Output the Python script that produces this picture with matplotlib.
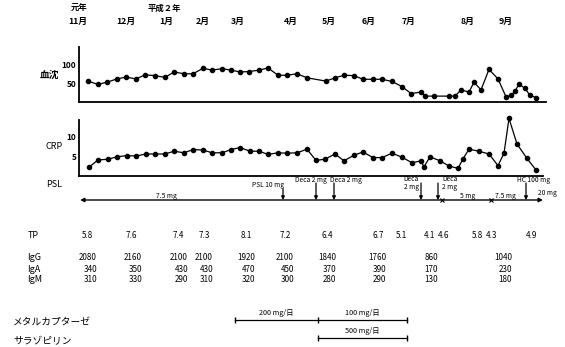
import matplotlib
matplotlib.use('Agg')
import matplotlib.pyplot as plt

plt.rcParams['font.family'] = ['Noto Sans CJK JP', 'DejaVu Sans']

W, H = 565, 347

# ---- time axis labels (positions on the chart's timeline) ----
year_labels = ['元年', '平成２年']
year_pos = [79, 164]
month_labels = ['11月', '12月', '1月', '2月', '3月', '4月', '5月', '6月', '7月', '8月', '9月']
month_pos = [78, 126, 166, 203, 238, 291, 329, 369, 409, 468, 506]

# ---- 血沈 (ESR) ----
esr_t = [88, 98, 107, 117, 126, 136, 145, 155, 165, 174, 184, 193, 203, 212, 222, 231, 240,
         249, 259, 268, 278, 287, 297, 307, 326, 335, 344, 354, 363, 373, 382, 392, 402, 411,
         421, 425, 434, 449, 455, 461, 469, 474, 481, 489, 498, 506, 511, 515, 519, 525, 530, 536]
esr_v = [56, 47, 53, 62, 67, 62, 73, 71, 66, 81, 76, 76, 91, 86, 90, 86, 81,
         82, 86, 92, 72, 72, 76, 65, 56, 65, 72, 71, 61, 61, 61, 55, 41, 22,
         26, 15, 15, 15, 15, 32, 26, 53, 32, 88, 62, 13, 17, 28, 48, 36, 17, 11]
esr_ticks = [50, 100]

# ---- CRP ----
crp_t = [89, 98, 108, 117, 127, 136, 146, 155, 165, 174, 184, 193, 203, 212, 222, 231, 240,
         250, 259, 268, 278, 287, 297, 307, 316, 325, 335, 344, 354, 363, 373, 382, 392, 402,
         412, 421, 424, 430, 440, 449, 458, 463, 469, 479, 489, 498, 504, 509, 517, 527, 536]
crp_v = [2.2, 4.0, 4.2, 4.8, 5.1, 5.0, 5.5, 5.5, 5.5, 6.2, 5.8, 6.6, 6.5, 5.8, 5.8, 6.6, 7.1,
         6.2, 6.2, 5.4, 5.8, 5.7, 5.8, 6.7, 3.9, 4.2, 5.5, 3.8, 5.2, 6.0, 4.6, 4.6, 5.7, 4.7,
         3.3, 3.8, 2.3, 4.8, 3.8, 2.5, 1.9, 4.3, 6.7, 6.2, 5.5, 2.6, 5.7, 14.4, 8.0, 4.4, 1.5]
crp_ticks = [5, 10]

# ---- PSL ----
psl_span = [80, 543]
psl_event_t = [283, 316, 334, 421, 438, 526]
psl_event_label = ['PSL 10 mg', 'Deca 2 mg', 'Deca 2 mg', 'Deca\n2 mg', 'Deca\n2 mg', 'HC 100 mg']
psl_dose_label = ['7.5 mg', '5 mg', '7.5 mg', '20 mg']
psl_dose_pos = [166, 468, 505, 547]
psl_breaks = [442, 491]

# ---- TP ----
tp_t = [87, 131, 178, 204, 246, 285, 327, 378, 401, 430, 444, 477, 492, 532]
tp_v = ['5.8', '7.6', '7.4', '7.3', '8.1', '7.2', '6.4', '6.7', '5.1', '4.1', '4.6', '5.8', '4.3', '4.9']

# ---- Immunoglobulins ----
ig_t = [97, 142, 188, 213, 255, 294, 336, 386, 438, 512]
igg = ['2080', '2160', '2100', '2100', '1920', '2100', '1840', '1760', '860', '1040']
iga = ['340', '350', '430', '430', '470', '450', '370', '390', '170', '230']
igm = ['310', '330', '290', '310', '320', '300', '280', '290', '130', '180']

# ---- drugs ----
drug_names = ['メタルカプターゼ', 'サラゾピリン']
metal_t = [235, 318, 407]
metal_dose = ['200 mg/日', '100 mg/日']
salazo_t = [318, 407]
salazo_dose = ['500 mg/日']

fig = plt.figure(figsize=(W / 100, H / 100), dpi=100)
fig.patch.set_facecolor('white')


def rect(x0, y0, x1, y1):
    return [x0 / W, 1 - y1 / H, (x1 - x0) / W, (y1 - y0) / H]


ax = fig.add_axes([0, 0, 1, 1])
ax.set_xlim(0, W)
ax.set_ylim(H, 0)
ax.axis('off')

# header
for lab, p in zip(year_labels, year_pos):
    ax.text(p, 8, lab, ha='center', va='center', fontsize=6, weight='bold')
for lab, p in zip(month_labels, month_pos):
    ax.text(p, 21, lab, ha='center', va='center', fontsize=6.3, weight='bold')

# ESR panel
axE = fig.add_axes(rect(79, 46.7, 546, 101.6))
axE.set_xlim(79, 546)
axE.set_ylim(0, 150)
axE.plot(esr_t, esr_v, '-o', color='black', ms=3.0, lw=0.9, clip_on=False)
axC = fig.add_axes(rect(79, 120, 543, 176))
axC.set_xlim(79, 543)
axC.set_ylim(0, 14)
axC.plot(crp_t, crp_v, '-o', color='black', ms=3.0, lw=0.9, clip_on=False)
for a, tk in ((axE, esr_ticks), (axC, crp_ticks)):
    a.patch.set_alpha(0)
    for s in ('top', 'right'):
        a.spines[s].set_visible(False)
    a.spines['left'].set_linewidth(1.3)
    a.spines['bottom'].set_linewidth(1.3)
    a.set_xticks([])
    a.set_yticks(tk)
    a.set_yticklabels([str(v) for v in tk], fontsize=6, weight='bold')
    a.tick_params(axis='y', length=0, pad=2)

ax.text(50, 75, '血沈', ha='center', va='center', fontsize=7, weight='bold')
ax.text(54, 146, 'CRP', ha='center', va='center', fontsize=6.5)
ax.text(54, 184, 'PSL', ha='center', va='center', fontsize=6.5)

# PSL line
yl = 200
ax.annotate('', xy=(psl_span[0], yl), xytext=(psl_span[1], yl),
            arrowprops=dict(arrowstyle='<|-|>', lw=1.0, color='black', mutation_scale=6,
                            shrinkA=0, shrinkB=0))
for t, lab in zip(psl_event_t, psl_event_label):
    top = 189 if lab.startswith('PSL') else 183
    ax.annotate('', xy=(t, yl), xytext=(t, top),
                arrowprops=dict(arrowstyle='-|>', lw=0.9, color='black', mutation_scale=5,
                                shrinkA=0, shrinkB=0))
fs_ev = 4.8
ax.text(psl_event_t[0] - 15, 185, psl_event_label[0], ha='center', va='center', fontsize=fs_ev)
ax.text(psl_event_t[1] - 21, 180, psl_event_label[1], ha='left', va='center', fontsize=fs_ev)
ax.text(psl_event_t[2] - 4, 180, psl_event_label[2], ha='left', va='center', fontsize=fs_ev)
ax.text(psl_event_t[3] - 2, 183, psl_event_label[3], ha='right', va='center', fontsize=fs_ev,
        linespacing=1.0)
ax.text(psl_event_t[4] + 4, 183, psl_event_label[4], ha='left', va='center', fontsize=fs_ev,
        linespacing=1.0)
ax.text(psl_event_t[5] - 9, 180, psl_event_label[5], ha='left', va='center', fontsize=fs_ev)
for p, lab in zip(psl_dose_pos, psl_dose_label):
    yy = 193 if lab == '20 mg' else 196
    ax.text(p, yy, lab, ha='center', va='center', fontsize=fs_ev)
ax.plot(psl_breaks, [yl] * len(psl_breaks), 'x', color='black', ms=3, mew=0.8)

# TP
ax.text(33, 235, 'TP', ha='center', va='center', fontsize=6.5)
for t, v in zip(tp_t, tp_v):
    ax.text(t, 235, v, ha='center', va='center', fontsize=5.8)

# Ig
for name, vals, yy in (('IgG', igg, 258), ('IgA', iga, 269), ('IgM', igm, 280)):
    ax.text(27, yy, name, ha='left', va='center', fontsize=6.5)
    for t, v in zip(ig_t, vals):
        ax.text(t, yy, v, ha='right', va='center', fontsize=5.8)

# drugs
ax.text(13, 322, drug_names[0], ha='left', va='center', fontsize=7)
ax.text(13, 341, drug_names[1], ha='left', va='center', fontsize=7)
ax.plot(metal_t, [320] * len(metal_t), '-|', color='black', lw=0.9, ms=4)
for i, lab in enumerate(metal_dose):
    ax.text((metal_t[i] + metal_t[i + 1]) / 2, 313, lab, ha='center', va='center', fontsize=5.2)
ax.plot(salazo_t, [338] * len(salazo_t), '-|', color='black', lw=0.9, ms=4)
ax.text((salazo_t[0] + salazo_t[1]) / 2, 331, salazo_dose[0], ha='center', va='center', fontsize=5.2)

fig.savefig('out.png', dpi=100, facecolor='white')
